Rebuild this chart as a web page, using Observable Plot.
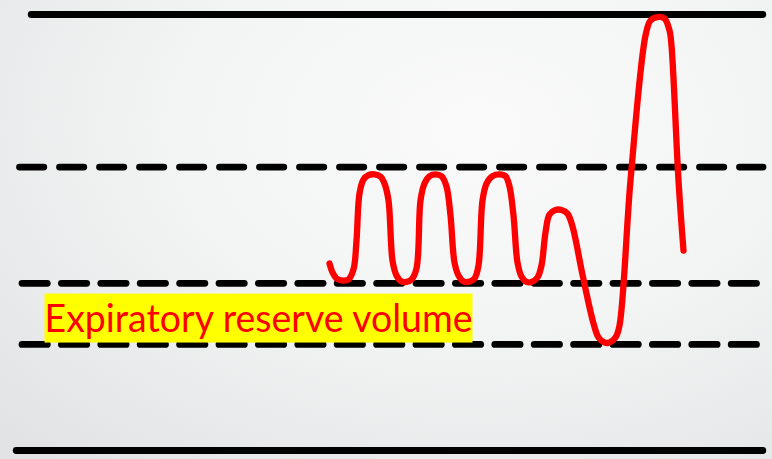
<!DOCTYPE html>
<html>
<head>
<meta charset="utf-8">
<script src="https://cdn.jsdelivr.net/npm/d3@7"></script>
<script src="https://cdn.jsdelivr.net/npm/@observablehq/plot@0.6"></script>
<style>
  html, body { margin: 0; padding: 0; }
  body {
    width: 772px; height: 459px; overflow: hidden;
    background: radial-gradient(ellipse 85% 95% at 62% 28%, #fafafa 0%, #f3f4f4 45%, #e2e3e4 100%);
  }
  #chart svg { display: block; }
</style>
</head>
<body>
<div id="chart"></div>
<script>
// Spirogram trace: time (s) and lung volume (mL)
const times = [16.45, 16.6, 16.8, 17.1, 17.4, 17.65, 17.8, 17.95, 18.15, 18.4, 18.7, 19.0, 19.2, 19.4, 19.6, 19.8,
  20.05, 20.3, 20.55, 20.8, 21.0, 21.2, 21.45, 21.75, 22.05, 22.3, 22.5, 22.7, 22.9, 23.15, 23.4, 23.7, 23.9,
  24.1, 24.3, 24.6, 24.95, 25.25, 25.45, 25.65, 25.85, 26.05, 26.3, 26.55, 26.85, 27.05, 27.25, 27.45, 27.75,
  28.05, 28.35, 28.6, 29.1, 29.65, 29.9, 30.2, 30.45, 30.75, 30.95, 31.5, 32.25, 32.5, 32.85, 33.2, 33.45, 33.55, 33.9, 34.15];
const volumes = [2573, 2450, 2367, 2339, 2353, 2491, 2890, 3537, 3730, 3790, 3800, 3770, 3674, 3440, 2615, 2408,
  2326, 2320, 2353, 2505, 3440, 3674, 3775, 3800, 3775, 3633, 3234, 2587, 2408, 2326, 2320, 2367, 2546,
  3440, 3674, 3775, 3800, 3775, 3633, 3234, 2587, 2394, 2320, 2320, 2381, 2546, 3000, 3248, 3310,
  3310, 3260, 3083, 2420, 1748, 1555, 1486, 1486, 1555, 1720, 3716, 5711, 5917, 5965, 5945, 5780, 5573, 3716, 2752];

const capacityLevels = [6000, 0];          // total lung capacity, zero line
const tidalLevels = [3900];                // end of tidal inspiration
const expiratoryLevels = [2300, 1460];     // end of tidal expiration, residual volume
const labels = ["Expiratory reserve volume"];

const trace = times.map((t, i) => ({t, v: volumes[i]}));
const mlPerPx = 6000 / 436;

const plot = Plot.plot({
  width: 772,
  height: 459,
  margin: 0,
  x: {domain: [0, 38.6], axis: null},
  y: {domain: [-9 * mlPerPx, 450 * mlPerPx], axis: null},
  style: {background: "transparent", overflow: "visible"},
  marks: [
    Plot.ruleY([capacityLevels[0]], {x1: 1.56, x2: 38.14, stroke: "#000", strokeWidth: 6.8, strokeLinecap: "round"}),
    Plot.ruleY([capacityLevels[1]], {x1: 0.81, x2: 38.14, stroke: "#000", strokeWidth: 6.8, strokeLinecap: "round"}),
    Plot.ruleY(tidalLevels, {x1: 0.975, x2: 38.15, stroke: "#000", strokeWidth: 6.8, strokeLinecap: "round", strokeDasharray: "24.3,15.7"}),
    Plot.ruleY(expiratoryLevels, {x1: 1.1, x2: 37.9, stroke: "#000", strokeWidth: 6.8, strokeLinecap: "round", strokeDasharray: "25.3,14.1"}),
    Plot.text(labels, {x: 2.2, y: 1637, text: d => d, fill: "#ff0000", fontSize: 39, fontFamily: "Lato", textAnchor: "start", lineAnchor: "bottom"}),
    Plot.line(trace, {x: "t", y: "v", stroke: "#ff0000", strokeWidth: 6.3, curve: "catmull-rom", strokeLinejoin: "round", strokeLinecap: "round"})
  ]
});

document.getElementById("chart").appendChild(plot);

// yellow highlight behind the label
d3.select(plot).selectAll("g[aria-label='text'] text").each(function () {
  this.setAttribute("textLength", 428);
  this.setAttribute("lengthAdjust", "spacingAndGlyphs");
  const b = this.getBBox();
  const padY = Math.max(0, (49 - b.height) / 2);
  const rect = document.createElementNS("http://www.w3.org/2000/svg", "rect");
  rect.setAttribute("x", b.x);
  rect.setAttribute("y", b.y - padY + 1.5);
  rect.setAttribute("width", b.width);
  rect.setAttribute("height", b.height + 2 * padY);
  rect.setAttribute("fill", "#ffff00");
  const tr = this.getAttribute("transform");
  if (tr) rect.setAttribute("transform", tr);
  this.parentNode.insertBefore(rect, this);
});
</script>
</body>
</html>
